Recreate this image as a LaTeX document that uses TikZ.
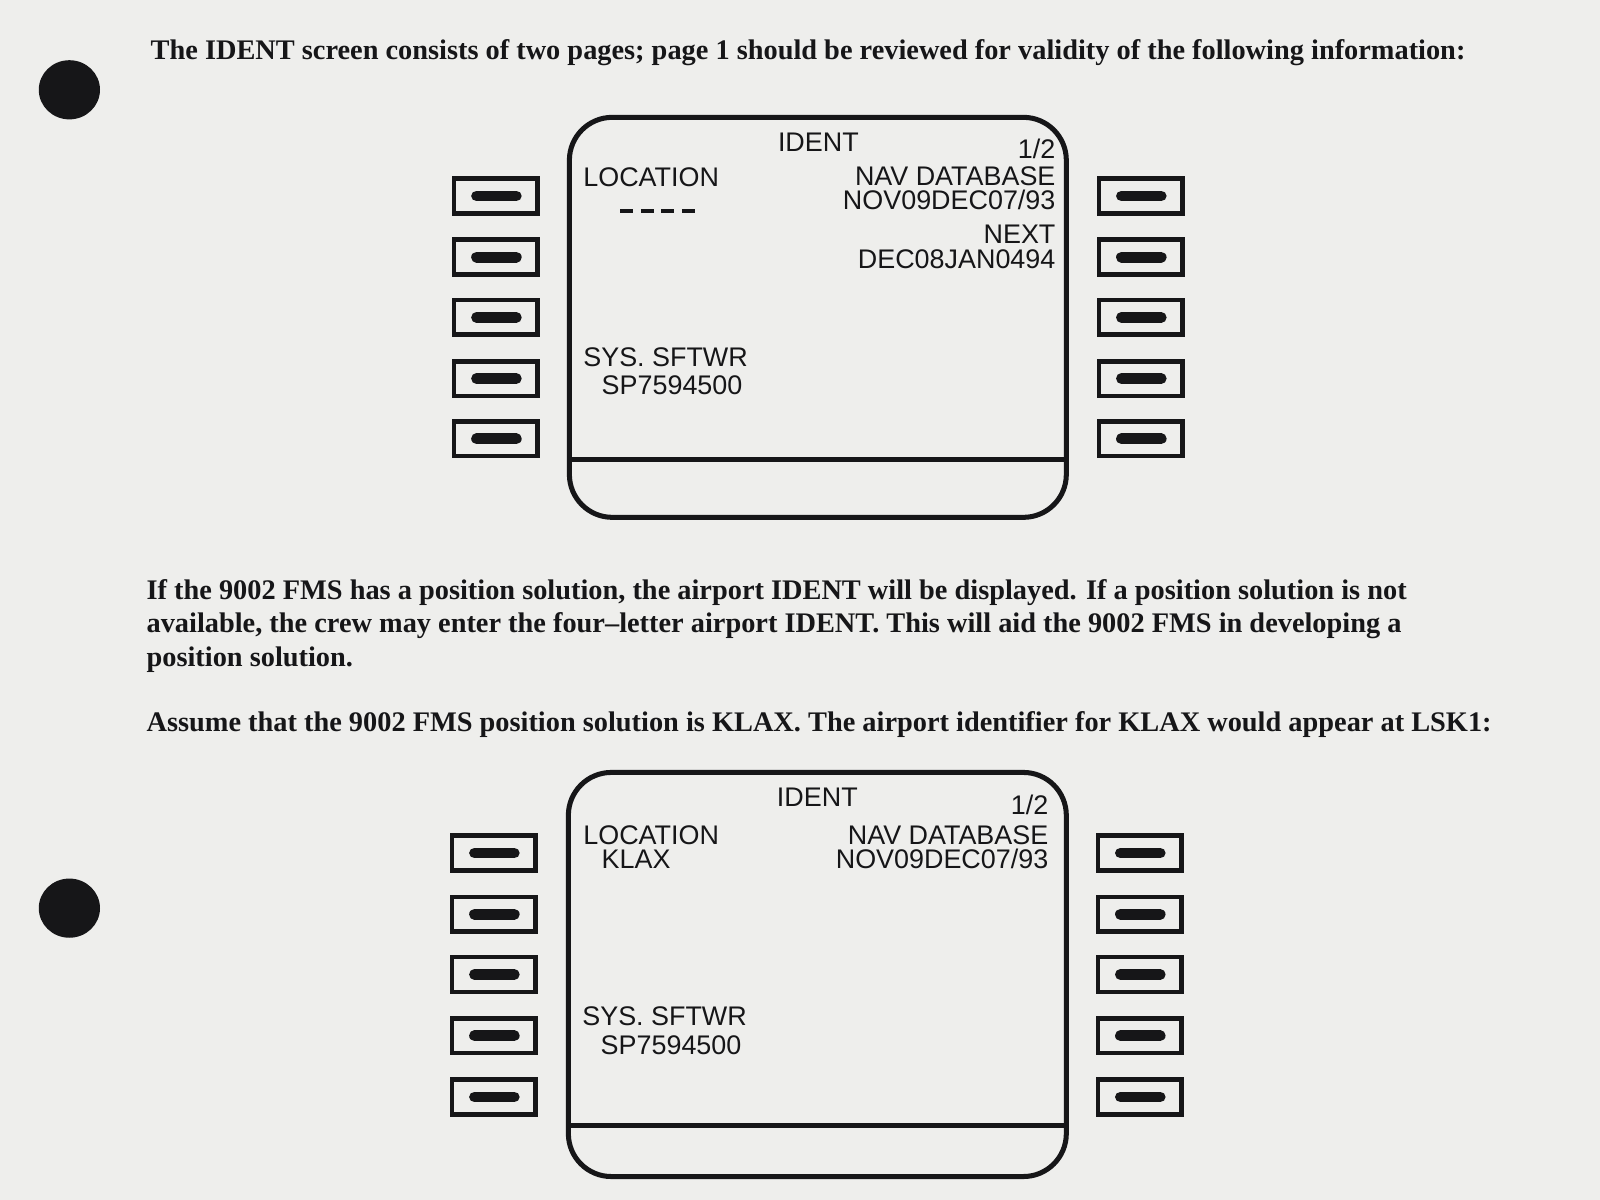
\documentclass[tikz,border=0pt]{standalone}
\usepackage{fontspec}
\setmainfont{Liberation Serif}
\newfontfamily\cdufont{Liberation Sans}
\usetikzlibrary{positioning}
\definecolor{paper}{RGB}{238,238,236}
\definecolor{ink}{RGB}{22,22,24}
\tikzset{
  body/.style={font=\fontsize{7.9}{9.4}\selectfont\bfseries, text=ink, inner sep=0, anchor=west, align=left},
  cdu/.style={font=\cdufont\fontsize{7.5}{7.5}\selectfont, text=ink, inner sep=0},
  screen/.style={draw=ink, line width=1.4pt, rounded corners=0.42cm},
  lsk/.style={draw=ink, line width=1.3pt, minimum width=0.82cm, minimum height=0.34cm, inner sep=0},
  bar/.style={draw=ink, line width=3pt, line cap=round}
}
\begin{document}
\begin{tikzpicture}[x=0.01cm,y=-0.01cm]
\fill[paper] (0,0) rectangle (1568,1176);
\useasboundingbox (0,0) rectangle (1568,1176);

% punched holes
\fill[ink] (68,88) ellipse (30 and 29);
\fill[ink] (68,890) ellipse (30 and 29);

% text
\node[body] (t1) at (147,52) {The IDENT screen consists of two pages; page 1 should be reviewed for validity of the following information:};
\node[body, anchor=north west] (t2) at (143,567) {If the 9002 FMS has a position solution, the airport IDENT will be displayed. If a position solution is not\\available, the crew may enter the four\textendash letter airport IDENT. This will aid the 9002 FMS in developing a\\position solution.};
\node[body] (t3) at (143,710) {Assume that the 9002 FMS position solution is KLAX. The airport identifier for KLAX would appear at LSK1:};

% screen 1
\draw[screen] (558,115) rectangle (1045,507);
\draw[ink, line width=1.4pt] (558,450) -- (1045,450);
\foreach \y [count=\i] in {192,252,311,371,430}{
  \node[lsk] (la\i) at (486,\y) {};
  \draw[bar] (467,\y) -- (506,\y);
  \node[lsk] (ra\i) at (1118,\y) {};
  \draw[bar] (1099,\y) -- (1138,\y);
}
\node[cdu] (ida) at (802,139) {IDENT};
\node[cdu, anchor=east] (pga) at (1035,146) {1/2};
\node[cdu, anchor=west] (loca) at (571,174) {LOCATION};
\draw[ink, line width=1.2pt, dash pattern=on 3.6pt off 2.1pt] (608,207) -- (681,207);
\node[cdu, anchor=east] (nava) at (1035,173) {NAV DATABASE};
\node[cdu, anchor=east] (dba) at (1035,196) {NOV09DEC07/93};
\node[cdu, anchor=east] (nxa) at (1035,230) {NEXT};
\node[cdu, anchor=east] (dbb) at (1035,254) {DEC08JAN0494};
\node[cdu, anchor=west] (sysa) at (571,350) {SYS. SFTWR};
\node[cdu, anchor=west] (swa) at (589,378) {SP7594500};

% screen 2
\draw[screen] (557,757) rectangle (1045,1153);
\draw[ink, line width=1.4pt] (557,1103) -- (1045,1103);
\foreach \y [count=\i] in {836,896,955,1015,1075}{
  \node[lsk] (lb\i) at (484,\y) {};
  \draw[bar] (465,\y) -- (504,\y);
  \node[lsk] (rb\i) at (1117,\y) {};
  \draw[bar] (1098,\y) -- (1137,\y);
}
\node[cdu] (idb) at (801,781) {IDENT};
\node[cdu, anchor=east] (pgb) at (1028,789) {1/2};
\node[cdu, anchor=west] (locb) at (571,819) {LOCATION};
\node[cdu, anchor=west] (apt) at (589,842) {KLAX};
\node[cdu, anchor=east] (navb) at (1028,819) {NAV DATABASE};
\node[cdu, anchor=east] (dbc) at (1028,842) {NOV09DEC07/93};
\node[cdu, anchor=west] (sysb) at (570,996) {SYS. SFTWR};
\node[cdu, anchor=west] (swb) at (588,1024) {SP7594500};
\end{tikzpicture}
\end{document}
